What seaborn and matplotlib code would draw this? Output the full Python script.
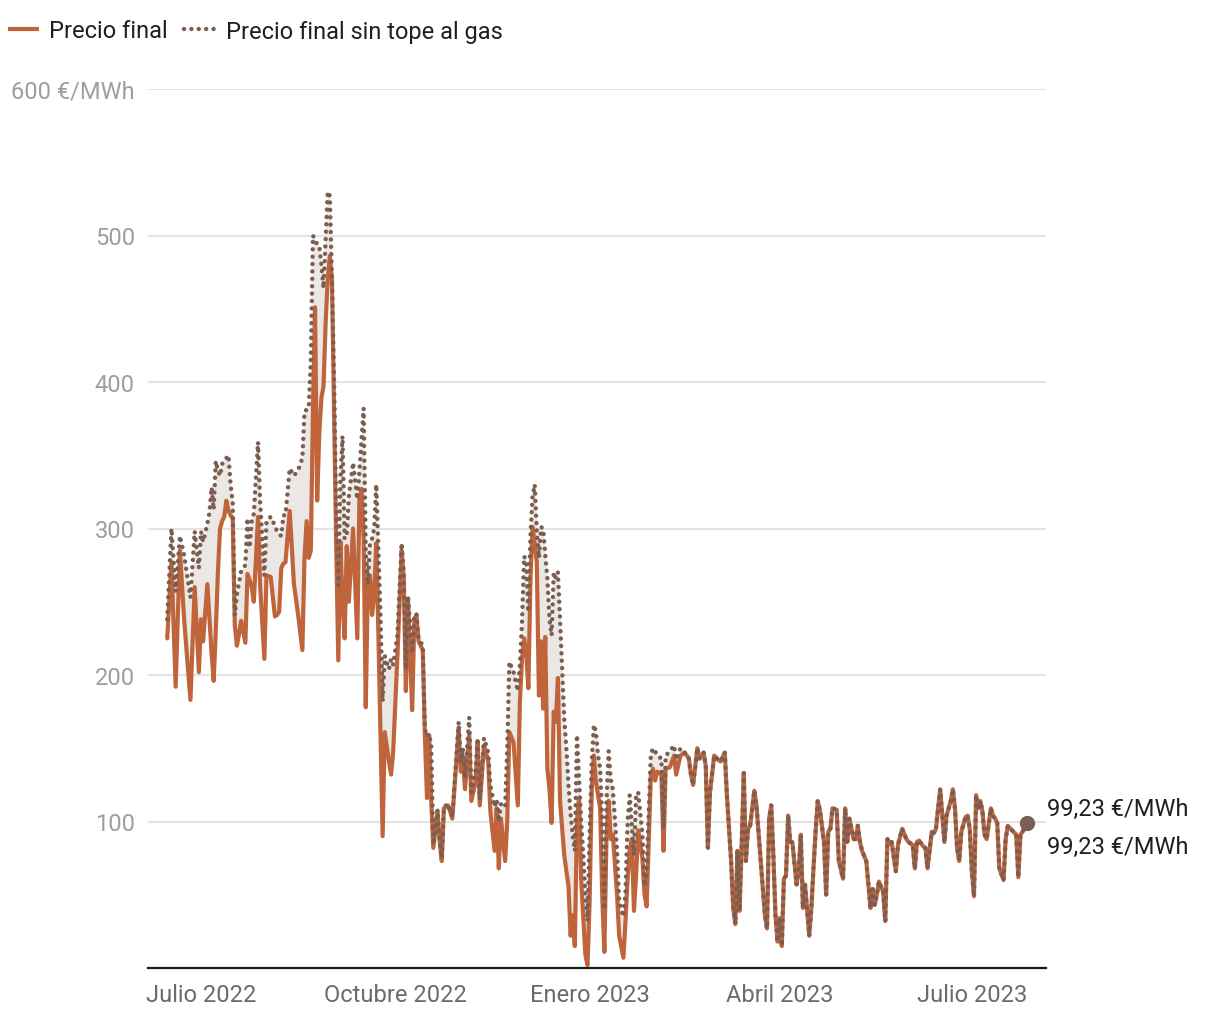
import numpy as np
import pandas as pd
import matplotlib
matplotlib.use("Agg")
import matplotlib.pyplot as plt
from matplotlib.lines import Line2D
import seaborn as sns

# ---------------- data ----------------
start_date = pd.Timestamp("2022-07-01")

# days relative to 1 July 2022 where both series differ (tope al gas active)
days_split = [
    -16, -14, -12, -10, -8, -5, -3, -1, 0, 1, 3, 4, 5, 6, 7, 8, 9, 10, 11, 12, 13, 14, 15,
    16, 17, 18, 19, 21, 22, 23, 24, 25, 27, 28, 30, 31, 33, 35, 36, 37, 38, 39, 40, 42, 44, 46, 48, 49, 50, 51, 52,
    53, 54, 55, 56, 57, 58, 59, 60, 61, 62, 63, 64, 65, 66, 67, 68, 69, 70, 72, 74, 75, 76, 77, 78, 79, 80, 81, 82, 83,
    84, 85, 86, 87, 89, 90, 91, 93, 95, 96, 97, 98, 100, 101, 102, 103, 105, 106, 107, 108, 109, 110, 112, 113, 114, 115, 117, 119,
    122, 123, 124, 125, 127, 128, 130, 131, 132, 134, 136, 137, 139, 140, 141, 142, 144, 145, 146, 148, 150, 151, 152, 153, 154, 155, 156, 157, 158, 159,
    160, 161, 162, 163, 164, 165, 166, 167, 168, 169, 170, 171, 172, 173, 174, 175, 176, 177, 178, 179, 180, 181, 182, 183, 184, 185, 186, 187, 188, 189, 190, 191,
    192, 193, 194, 195, 197, 198, 200, 201, 202, 203, 204, 205, 206, 207, 209, 210, 211, 213, 214, 215, 216, 218, 219, 220, 222, 224, 225, 227,
]
final_split = [
    225, 277, 192, 285, 238, 183, 260, 202, 238, 223, 262, 238, 215, 196, 230, 270, 300, 305, 308, 319, 312, 309, 307,
    234, 220, 228, 237, 222, 269, 265, 260, 250, 308, 261, 211, 268, 267, 240, 241, 243, 273, 276, 277, 312, 262, 241, 217, 280, 305, 280, 285,
    380, 451, 319, 365, 389, 397, 440, 470, 486, 470, 380, 290, 210, 291, 250, 225, 288, 250, 300, 225, 320, 327, 293, 178, 261, 268, 241, 255, 290,
    227, 159, 90, 161, 141, 132, 148, 213, 285, 266, 189, 252, 176, 238, 241, 223, 217, 159, 116, 159, 114, 82, 107, 86, 73, 109, 111, 102,
    164, 134, 143, 122, 159, 114, 127, 154, 111, 152, 141, 107, 80, 109, 68, 102, 73, 100, 161, 154, 111, 182, 211, 225, 215, 191, 266, 301, 290, 277,
    186, 223, 177, 226, 136, 122, 99, 175, 168, 198, 114, 95, 77, 66, 56, 22, 36, 15, 100, 116, 60, 34, 9, 2, 45, 122, 145, 127, 118, 109, 48, 11,
    91, 114, 88, 91, 50, 22, 7, 32, 61, 80, 88, 39, 63, 94, 75, 50, 42, 132, 136, 128, 134, 132, 80, 136, 137, 145, 132, 145,
]
sin_tope_split = [
    238, 300, 257, 295, 282, 253, 298, 273, 298, 291, 303, 311, 328, 313, 346, 340, 336, 344, 347, 348, 350, 330, 318,
    241, 255, 263, 271, 275, 307, 287, 305, 310, 359, 318, 268, 305, 308, 302, 298, 296, 295, 309, 309, 341, 336, 340, 348, 380, 381, 382, 414,
    500, 497, 494, 493, 480, 464, 497, 530, 527, 470, 402, 311, 261, 334, 363, 293, 295, 322, 345, 320, 339, 360, 382, 285, 262, 290, 293, 300, 330,
    285, 240, 182, 213, 204, 211, 207, 227, 290, 270, 204, 254, 215, 240, 242, 225, 220, 163, 158, 160, 152, 84, 108, 88, 75, 110, 112, 103,
    168, 140, 150, 130, 171, 120, 135, 157, 115, 157, 147, 125, 110, 115, 100, 112, 110, 150, 209, 202, 189, 207, 236, 281, 277, 243, 295, 322, 330, 298,
    280, 301, 300, 282, 266, 238, 227, 270, 266, 270, 238, 204, 170, 150, 125, 105, 90, 80, 159, 130, 100, 77, 50, 32, 91, 140, 166, 161, 145, 136, 100, 40,
    114, 148, 129, 122, 80, 45, 35, 52, 100, 118, 97, 77, 118, 120, 91, 56, 65, 146, 150, 148, 145, 143, 95, 145, 148, 152, 142, 150,
]

# days where both series coincide
days_common = [
    229, 231, 232, 233, 235, 236, 238, 239, 240, 241, 243, 245, 246, 248, 249, 251, 252, 253, 254, 255, 256, 257, 258, 259, 260,
    262, 263, 265, 267, 268, 269, 270, 271, 272, 273, 274, 275, 276, 277, 278, 279, 280, 282, 283, 284, 285, 286, 288, 289, 290,
    291, 292, 293, 295, 296, 297, 298, 299, 301, 302, 304, 305, 306, 307, 309, 310, 311, 312, 313, 315, 317, 318, 319, 320, 321,
    323, 324, 325, 326, 327, 329, 330, 332, 334, 335, 337, 338, 339, 340, 342, 343, 344, 346, 347, 348, 349, 350, 351, 352, 353,
    355, 356, 357, 358, 359, 360, 362, 363, 364, 365, 366, 367, 368, 369, 370, 371, 372, 374, 375, 376, 377, 378, 380, 381, 382,
    384, 386, 387, 388, 389, 391,
]
values_common = [
    147, 143, 132, 125, 150, 143, 147, 138, 82, 120, 145, 142, 141, 147, 118, 73, 41, 30, 80, 39, 84, 133, 73, 95, 97,
    121, 111, 73, 36, 27, 102, 111, 77, 36, 18, 34, 15, 61, 63, 104, 86, 86, 57, 66, 91, 41, 57, 22, 41, 68,
    93, 114, 108, 86, 50, 93, 95, 109, 108, 73, 61, 109, 86, 102, 88, 88, 97, 86, 80, 73, 41, 54, 43, 50, 59,
    52, 32, 88, 85, 86, 66, 84, 95, 88, 86, 84, 68, 86, 87, 83, 82, 68, 93, 92, 95, 109, 122, 104, 86, 104,
    114, 122, 109, 82, 73, 93, 103, 104, 95, 66, 49, 118, 109, 114, 107, 91, 88, 109, 104, 102, 99, 68, 60, 88, 97,
    94, 91, 62, 91, 93, 99.23,
]

series_labels = ["Precio final", "Precio final sin tope al gas"]
ytick_values = [100, 200, 300, 400, 500, 600]
ytick_labels = ["100", "200", "300", "400", "500", "600 €/MWh"]
xtick_dates = ["2022-07-01", "2022-10-01", "2023-01-01", "2023-04-01", "2023-07-01"]
xtick_labels = ["Julio 2022", "Octubre 2022", "Enero 2023", "Abril 2023", "Julio 2023"]
end_labels = ["99,23 €/MWh", "99,23 €/MWh"]

assert len(days_split) == len(final_split) == len(sin_tope_split)
assert len(days_common) == len(values_common)

days = days_split + days_common
df = pd.DataFrame({
    "fecha": start_date + pd.to_timedelta(days, unit="D"),
    "final": final_split + values_common,
    "sin_tope": sin_tope_split + values_common,
})

# ---------------- style ----------------
ORANGE = "#c0643b"
BROWN = "#7b5e52"
FILL = "#ebe7e4"
GRID = "#e3e3e3"
FS = 17

sns.set_theme(style="white")
plt.rcParams["font.family"] = ["Roboto", "DejaVu Sans"]

W, H = 1220, 1020
fig = plt.figure(figsize=(W / 100, H / 100), dpi=100)
ax = fig.add_axes([148 / W, 1 - 969 / H, (1046 - 148) / W, (969 - 90) / H])

dots = (0, (0.01, 1.65))

ax.fill_between(df["fecha"], df["final"], df["sin_tope"], color=FILL, lw=0, zorder=1)
sns.lineplot(data=df, x="fecha", y="final", ax=ax, color=ORANGE, lw=3.0,
             estimator=None, solid_joinstyle="round", solid_capstyle="round", zorder=3)
sns.lineplot(data=df, x="fecha", y="sin_tope", ax=ax, color=BROWN, lw=3.2,
             estimator=None, linestyle=dots, dash_capstyle="round", zorder=4)

last_date = df["fecha"].iloc[-1]
last_val = df["sin_tope"].iloc[-1]
ax.plot([last_date], [last_val], "o", color=BROWN, ms=10, zorder=6, clip_on=False)
for lbl, dy in zip(end_labels, [14, -24]):
    ax.annotate(lbl, xy=(last_date, last_val), xytext=(20, dy), textcoords="offset pixels",
                ha="left", va="center", fontsize=FS, color="#1f1f1f", annotation_clip=False)

# axes
ax.set_ylim(0, 600)
ax.set_xlim(start_date - pd.Timedelta(days=25.1), start_date + pd.Timedelta(days=400.1))
ax.set_yticks(ytick_values, ytick_labels)
ax.set_xticks(pd.to_datetime(xtick_dates), xtick_labels)
ax.grid(axis="y", color=GRID, lw=1.5)
ax.grid(axis="x", visible=False)
ax.set_axisbelow(True)
ax.tick_params(axis="y", length=0, pad=9.5, labelsize=FS, labelcolor="#9e9e9e")
ax.tick_params(axis="x", length=0, pad=11, labelsize=FS, labelcolor="#6b6b6b")
ax.set_xlabel("")
ax.set_ylabel("")
for s in ["left", "right", "top"]:
    ax.spines[s].set_visible(False)
ax.spines["bottom"].set_color("#1a1a1a")
ax.spines["bottom"].set_linewidth(1.6)
ax.spines["bottom"].set_zorder(7)

# legend
handles = [
    Line2D([], [], color=ORANGE, lw=3.0, solid_capstyle="butt"),
    Line2D([], [], color=BROWN, lw=3.2, linestyle=dots, dash_capstyle="round"),
]
fig.legend(handles, series_labels, loc="center left", bbox_to_anchor=(8 / W, 1 - 32 / H),
           ncol=2, frameon=False, fontsize=FS, handlelength=1.3, handletextpad=0.45,
           columnspacing=0.7, borderaxespad=0, borderpad=0, labelcolor="#1f1f1f")

fig.savefig("out.png", dpi=100, facecolor="white")
